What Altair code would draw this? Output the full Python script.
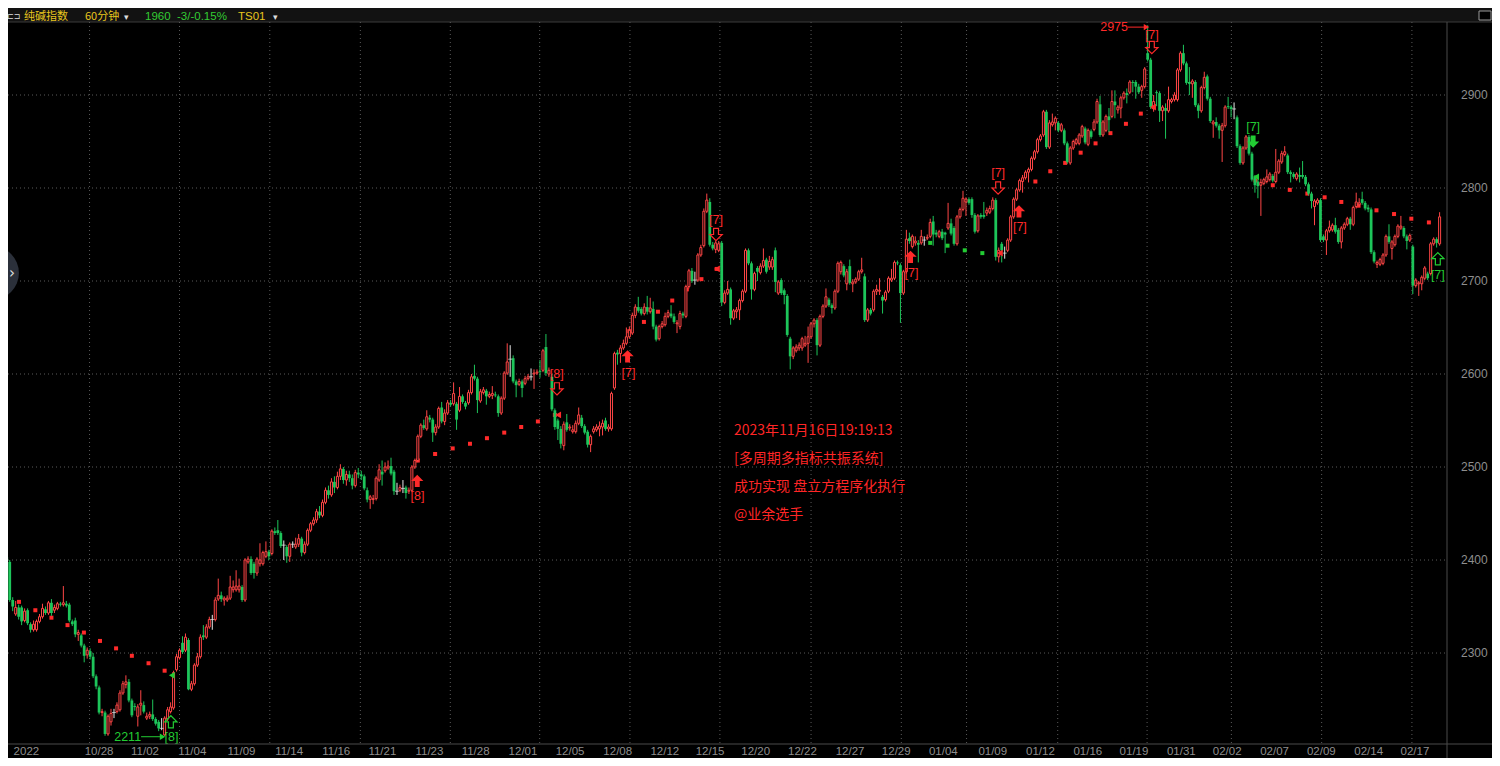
import altair as alt
import pandas as pd

# ---------------- data (60-min candles, bar index = time order) ----------------
opens = [
2403,2398,2357,2342,2349,2349,2335,2346,2331,2325,
2325,2334,2339,2347,2343,2354,2346,2348,2353,2352,
2353,2352,2334,2335,2320,2319,2308,2298,2302,2296,
2275,2263,2236,2236,2213,2226,2236,2237,2239,2257,
2266,2269,2249,2243,2232,2244,2244,2230,2232,2234,
2229,2226,2219,2212,2229,2237,2241,2282,2295,2311,
2303,2314,2261,2267,2287,2296,2319,2317,2328,2336,
2336,2358,2362,2357,2357,2359,2368,2368,2368,2371,
2357,2398,2401,2396,2386,2396,2396,2404,2409,2407,
2431,2432,2429,2416,2414,2404,2417,2414,2417,2423,
2408,2417,2432,2439,2443,2452,2448,2462,2475,2470,
2484,2478,2490,2498,2486,2492,2488,2480,2494,2492,
2490,2475,2465,2465,2466,2486,2495,2496,2499,2501,
2495,2474,2475,2477,2478,2474,2475,2500,2507,2533,
2545,2541,2553,2551,2537,2543,2564,2549,2558,2569,
2568,2568,2561,2576,2569,2569,2580,2598,2595,2571,
2580,2582,2576,2577,2578,2576,2558,2574,2601,2616,
2617,2592,2589,2592,2590,2595,2597,2600,2601,2603,
2604,2629,2600,2597,2561,2550,2541,2523,2548,2542,
2538,2538,2547,2553,2544,2538,2524,2538,2540,2541,
2543,2550,2541,2541,2585,2623,2622,2628,2633,2640,
2644,2663,2672,2670,2665,2672,2667,2670,2651,2638,
2651,2653,2662,2665,2662,2654,2651,2665,2662,2694,
2711,2701,2701,2728,2738,2775,2785,2739,2734,2733,
2741,2677,2687,2691,2660,2667,2669,2679,2689,2733,
2719,2691,2714,2709,2716,2723,2715,2715,2733,2687,
2701,2690,2684,2638,2619,2625,2628,2628,2631,2633,
2640,2654,2658,2631,2662,2673,2680,2674,2671,2689,
2710,2716,2697,2716,2697,2699,2702,2710,2705,2658,
2669,2669,2689,2689,2683,2680,2689,2701,2703,2720,
2717,2687,2710,2746,2737,2741,2741,2741,2744,2746,
2748,2764,2752,2748,2753,2752,2757,2762,2757,2740,
2769,2777,2785,2788,2788,2771,2754,2771,2771,2773,
2774,2778,2787,2726,2740,2730,2733,2744,2769,2788,
2798,2807,2811,2817,2820,2832,2839,2852,2857,2882,
2844,2868,2870,2870,2862,2862,2848,2827,2843,2848,
2848,2856,2864,2847,2861,2863,2871,2890,2857,2862,
2877,2877,2893,2884,2886,2897,2902,2903,2914,2914,
2909,2905,2909,2945,2938,2887,2903,2902,2883,2886,
2883,2893,2895,2895,2927,2945,2934,2914,2912,2914,
2889,2883,2908,2920,2896,2869,2871,2867,2862,2867,
2888,2887,2885,2876,2845,2827,2843,2855,2837,2812,
2807,2803,2805,2807,2809,2813,2807,2817,2828,2836,
2835,2817,2815,2810,2814,2814,2812,2804,2794,2780,
2784,2787,2748,2744,2754,2755,2760,2755,2742,2757,
2761,2767,2761,2780,2782,2788,2784,2779,2777,2731,
2718,2718,2719,2728,2748,2735,2739,2748,2757,2757,
2748,2744,2737,2695,2697,2697,2703,2708,2708,2740,
2745,2740]

highs = [
2415,2400,2360,2356,2352,2351,2348,2348,2333,2335,
2336,2342,2353,2350,2356,2358,2352,2355,2355,2372,
2356,2354,2336,2338,2325,2321,2310,2306,2305,2300,
2277,2265,2240,2238,2234,2240,2240,2247,2260,2270,
2276,2272,2251,2246,2245,2260,2248,2236,2237,2250,
2231,2228,2230,2232,2242,2247,2281,2299,2305,2318,
2321,2316,2270,2289,2300,2320,2330,2331,2339,2341,
2360,2380,2366,2361,2362,2383,2378,2389,2380,2373,
2402,2404,2404,2398,2403,2418,2410,2420,2411,2433,
2435,2443,2431,2421,2416,2419,2420,2424,2428,2425,
2420,2434,2441,2446,2455,2458,2465,2478,2480,2488,
2490,2495,2503,2500,2496,2496,2492,2497,2499,2496,
2492,2478,2470,2470,2490,2503,2507,2505,2507,2510,
2497,2483,2481,2486,2480,2478,2502,2509,2535,2547,
2551,2561,2556,2553,2546,2565,2570,2562,2572,2572,
2591,2570,2586,2578,2571,2583,2600,2610,2597,2584,
2586,2584,2581,2587,2581,2578,2576,2603,2633,2631,
2620,2594,2595,2594,2598,2600,2606,2605,2605,2615,
2627,2643,2607,2600,2563,2552,2544,2549,2557,2546,
2545,2550,2564,2556,2546,2540,2535,2544,2546,2549,
2551,2553,2546,2581,2624,2626,2631,2637,2650,2651,
2666,2675,2683,2672,2676,2684,2682,2678,2653,2653,
2657,2666,2669,2674,2665,2658,2668,2667,2696,2713,
2714,2710,2730,2739,2778,2794,2789,2742,2743,2743,
2743,2690,2700,2693,2670,2672,2681,2691,2735,2735,
2721,2710,2716,2719,2735,2725,2727,2726,2736,2701,
2703,2692,2686,2640,2630,2632,2634,2640,2641,2651,
2656,2660,2660,2664,2675,2692,2682,2676,2691,2721,
2722,2718,2713,2723,2702,2704,2712,2725,2708,2671,
2671,2691,2696,2703,2685,2690,2705,2713,2722,2722,
2719,2712,2755,2752,2750,2748,2744,2755,2748,2750,
2767,2770,2755,2755,2756,2753,2784,2767,2759,2771,
2779,2797,2790,2790,2790,2773,2772,2773,2785,2779,
2781,2790,2789,2736,2742,2737,2746,2771,2790,2800,
2810,2814,2819,2822,2834,2841,2854,2858,2884,2884,
2873,2880,2877,2872,2870,2864,2850,2845,2852,2854,
2859,2868,2866,2864,2863,2874,2896,2899,2873,2879,
2886,2905,2905,2889,2899,2904,2907,2916,2916,2916,
2912,2911,2930,2975,2940,2900,2905,2904,2889,2891,
2909,2897,2903,2929,2947,2954,2936,2930,2917,2916,
2891,2910,2925,2922,2898,2873,2876,2869,2870,2889,
2898,2889,2892,2878,2847,2845,2857,2857,2839,2814,
2809,2810,2811,2820,2817,2815,2842,2831,2840,2845,
2837,2819,2817,2817,2822,2829,2814,2806,2796,2788,
2789,2789,2750,2756,2765,2762,2768,2757,2759,2763,
2769,2769,2781,2795,2789,2796,2786,2782,2779,2733,
2722,2725,2730,2750,2761,2744,2750,2761,2770,2759,
2750,2751,2739,2703,2700,2706,2716,2710,2742,2747,
2747,2774]

lows = [
2397,2355,2345,2340,2336,2330,2333,2330,2322,2323,
2323,2332,2337,2341,2341,2340,2343,2346,2350,2350,
2349,2333,2329,2317,2313,2306,2290,2294,2293,2273,
2261,2234,2232,2211,2211,2222,2230,2235,2237,2255,
2262,2247,2231,2238,2221,2233,2235,2228,2229,2227,
2222,2216,2217,2211,2227,2235,2239,2280,2293,2299,
2301,2260,2259,2265,2285,2294,2314,2315,2326,2325,
2334,2356,2355,2351,2355,2357,2365,2366,2365,2355,
2355,2396,2384,2380,2383,2393,2394,2402,2400,2405,
2427,2427,2413,2400,2397,2398,2413,2412,2414,2404,
2406,2415,2430,2437,2440,2445,2446,2460,2466,2468,
2472,2476,2486,2482,2480,2484,2476,2478,2488,2486,
2475,2462,2455,2460,2464,2484,2480,2494,2497,2491,
2470,2470,2473,2472,2466,2471,2473,2498,2505,2531,
2540,2539,2548,2527,2534,2541,2547,2545,2556,2565,
2566,2540,2559,2568,2562,2567,2578,2593,2558,2569,
2578,2567,2574,2573,2575,2554,2556,2572,2599,2597,
2590,2575,2587,2575,2588,2593,2593,2584,2599,2596,
2602,2598,2597,2560,2540,2529,2520,2518,2538,2539,
2536,2536,2545,2542,2535,2521,2516,2536,2538,2533,
2534,2539,2538,2539,2583,2610,2612,2626,2631,2638,
2642,2660,2666,2663,2663,2664,2665,2648,2635,2636,
2649,2651,2660,2660,2654,2644,2648,2660,2660,2692,
2698,2696,2699,2726,2736,2773,2737,2733,2730,2731,
2673,2675,2685,2653,2658,2660,2658,2677,2687,2717,
2680,2689,2700,2707,2714,2708,2712,2712,2688,2685,
2685,2675,2640,2605,2616,2623,2625,2625,2629,2612,
2638,2650,2620,2629,2660,2671,2672,2665,2669,2687,
2707,2704,2690,2696,2688,2697,2700,2708,2656,2656,
2663,2667,2685,2685,2665,2678,2687,2699,2701,2717,
2655,2685,2708,2740,2735,2738,2720,2739,2738,2744,
2746,2738,2747,2746,2744,2730,2755,2749,2738,2738,
2767,2775,2770,2782,2768,2751,2752,2767,2767,2770,
2772,2776,2722,2720,2720,2724,2731,2742,2767,2786,
2796,2795,2809,2806,2818,2830,2837,2850,2855,2842,
2842,2866,2862,2860,2860,2846,2826,2825,2841,2846,
2846,2854,2847,2845,2853,2861,2869,2855,2855,2860,
2860,2875,2875,2880,2875,2895,2891,2901,2903,2896,
2901,2897,2907,2936,2885,2882,2888,2871,2872,2853,
2881,2891,2893,2893,2925,2932,2911,2900,2897,2887,
2875,2881,2906,2894,2870,2854,2865,2853,2828,2865,
2885,2876,2874,2843,2825,2825,2841,2835,2807,2795,
2789,2770,2803,2805,2807,2806,2805,2815,2826,2834,
2815,2806,2810,2808,2806,2810,2802,2792,2778,2760,
2782,2742,2742,2728,2752,2753,2751,2740,2735,2755,
2759,2755,2759,2778,2780,2782,2776,2774,2729,2719,
2714,2716,2717,2726,2740,2723,2737,2746,2755,2746,
2734,2742,2686,2693,2684,2690,2701,2701,2706,2738,
2736,2738]

closes = [
2399,2357,2350,2349,2339,2334,2345,2332,2325,2331,
2334,2339,2348,2343,2354,2343,2349,2353,2352,2354,
2351,2335,2331,2320,2322,2308,2297,2303,2296,2275,
2264,2236,2237,2213,2232,2235,2236,2244,2257,2267,
2269,2249,2233,2242,2242,2246,2237,2232,2234,2229,
2224,2219,2219,2230,2239,2242,2279,2296,2303,2301,
2317,2261,2267,2287,2296,2317,2317,2328,2336,2336,
2357,2362,2358,2359,2359,2371,2371,2372,2372,2357,
2400,2401,2386,2386,2401,2400,2408,2409,2404,2431,
2429,2429,2415,2416,2404,2417,2417,2417,2423,2408,
2417,2432,2439,2443,2452,2448,2462,2475,2470,2484,
2478,2490,2498,2486,2492,2488,2480,2494,2492,2490,
2477,2465,2468,2466,2488,2497,2492,2500,2501,2493,
2474,2474,2478,2477,2472,2475,2500,2507,2533,2545,
2542,2554,2551,2537,2543,2563,2549,2558,2569,2567,
2579,2551,2576,2570,2565,2580,2597,2595,2572,2581,
2583,2576,2578,2579,2577,2558,2574,2601,2613,2616,
2592,2588,2592,2585,2595,2597,2597,2601,2602,2602,
2625,2601,2604,2562,2543,2541,2525,2546,2540,2543,
2540,2547,2556,2544,2537,2524,2533,2541,2543,2544,
2547,2541,2543,2579,2622,2621,2628,2633,2640,2647,
2663,2672,2668,2665,2672,2667,2671,2651,2637,2651,
2654,2662,2666,2662,2656,2655,2665,2663,2694,2711,
2700,2701,2728,2736,2775,2787,2739,2735,2741,2740,
2677,2687,2691,2660,2668,2669,2679,2689,2733,2719,
2691,2708,2710,2716,2722,2710,2721,2723,2699,2699,
2687,2685,2642,2619,2628,2629,2631,2638,2633,2640,
2654,2658,2631,2662,2673,2683,2674,2671,2689,2719,
2720,2706,2710,2698,2699,2702,2710,2712,2658,2669,
2665,2689,2691,2690,2679,2688,2703,2703,2720,2719,
2687,2710,2745,2743,2748,2743,2739,2748,2744,2747,
2763,2750,2750,2753,2746,2750,2762,2751,2740,2769,
2777,2789,2788,2784,2771,2753,2770,2769,2769,2776,
2778,2787,2726,2733,2733,2730,2744,2769,2788,2798,
2808,2811,2817,2820,2832,2839,2852,2856,2882,2844,
2870,2871,2875,2862,2868,2848,2828,2843,2850,2852,
2857,2866,2849,2862,2855,2871,2893,2857,2871,2877,
2873,2893,2889,2887,2897,2902,2900,2914,2913,2909,
2903,2909,2928,2938,2887,2893,2902,2883,2887,2883,
2895,2895,2900,2927,2945,2934,2913,2912,2915,2889,
2883,2908,2919,2896,2872,2871,2867,2862,2867,2887,
2887,2885,2885,2845,2827,2843,2855,2837,2809,2803,
2802,2806,2809,2812,2815,2808,2817,2829,2837,2839,
2817,2815,2812,2815,2812,2812,2804,2794,2786,2786,
2787,2744,2744,2754,2758,2760,2753,2742,2757,2761,
2767,2761,2779,2785,2784,2784,2778,2777,2731,2721,
2720,2723,2728,2748,2742,2742,2748,2759,2759,2748,
2743,2749,2695,2701,2698,2704,2714,2703,2740,2745,
2741,2769]

price_levels = [2300, 2400, 2500, 2600, 2700, 2800, 2900]
date_labels = ["2022", "10/28", "11/02", "11/04", "11/09", "11/14", "11/16", "11/21",
               "11/23", "11/28", "12/01", "12/05", "12/08", "12/12", "12/15", "12/20",
               "12/22", "12/27", "12/29", "01/04", "01/09", "01/12", "01/16", "01/19",
               "01/31", "02/02", "02/07", "02/09", "02/14", "02/17"]
date_bars = [6.6, 31.0, 46.4, 62.3, 78.8, 94.8, 110.6, 126.1, 141.9, 157.4, 173.3,
             189.1, 205.1, 220.9, 236.1, 251.4, 267.1, 283.1, 298.6, 314.4, 331.0,
             347.0, 362.9, 378.4, 394.3, 409.7, 425.6, 441.3, 457.2, 472.7]
week_bars = [27.8, 58.0, 88.3, 118.7, 148.9, 178.9, 209.2, 239.4, 270.0, 300.3,
             322.2, 352.8, 382.8, 411.1, 441.4, 471.7]

# trailing stop dots
stop_bars = [4.1, 9.6, 15.0, 20.4, 25.9, 31.3, 36.7, 42.0, 47.6, 53.0,
             138.0, 143.8, 149.7, 155.5, 161.2, 167.0, 172.7, 178.3, 184.0,
             209.0, 213.9, 218.6, 223.4, 228.3, 233.2, 238.3,
             303.8, 310.0, 315.8, 321.6, 327.5,
             345.3, 350.3, 355.3, 360.5, 365.5, 370.5, 375.7, 380.7, 385.0,
             419.2, 425.0, 430.7, 436.6, 442.4, 448.0, 453.8, 459.8, 465.7, 471.5, 477.4]
stop_prices = [2355, 2346, 2338, 2330, 2322, 2313, 2305, 2297, 2289, 2281,
               2507, 2514, 2520, 2525, 2531, 2537, 2543, 2549, 2556,
               2646, 2656, 2667, 2679, 2691, 2702, 2713,
               2745, 2741, 2738, 2733, 2730,
               2807, 2818, 2827, 2838, 2848, 2859, 2869, 2880, 2887,
               2808, 2803, 2798, 2794, 2790, 2785, 2781, 2776, 2772, 2767, 2763]
stop_sides = ["r"] * 26 + ["g"] * 5 + ["r"] * 20

# signal arrows
arrow_bars = [55.1, 137.8, 208.4, 303.4, 339.8, 184.7, 238.1, 332.8, 384.4, 418.4, 480.4]
arrow_prices = [2226, 2485, 2619, 2726, 2775, 2584, 2750, 2800, 2951, 2850, 2724]
arrow_dirs = ["up", "up", "up", "up", "up", "down", "down", "down", "down", "down", "up"]
arrow_solid = [False, True, True, True, True, False, False, False, False, True, False]
arrow_sides = ["g", "r", "r", "r", "r", "r", "r", "r", "r", "g", "g"]

tag_bars = [55.3, 137.9, 184.6, 208.7, 238.1, 303.7, 332.8, 340.1, 384.4, 418.4, 480.4]
tag_prices = [2210, 2469, 2600, 2601, 2766, 2709, 2816, 2758, 2965, 2866, 2707]
tag_texts = ["[8]", "[8]", "[8]", "[7]", "[7]", "[7]", "[7]", "[7]", "[7]", "[7]", "[7]"]
tag_sides = ["g", "r", "r", "r", "r", "r", "r", "r", "r", "g", "g"]

flag_bars = [55.4, 185.1, 238.4, 333.4, 384.8, 419.4]
flag_prices = [2276, 2556, 2713, 2730, 2887, 2812]
flag_sides = ["g", "r", "r", "r", "r", "g"]

extreme_texts = ["2975", "2211"]
extreme_bars = [376.4, 45.1]
extreme_prices = [2973, 2210]
extreme_ends = [382.6, 52.3]
extreme_sides = ["r", "g"]

note_lines = ["2023年11月16日19:19:13", "[多周期多指标共振系统]", "成功实现 盘立方程序化执行", "@业余选手"]

# ---------------- style ----------------
RED = "#FF4646"
GREEN = "#1DC55A"
WHITE = "#E8E8E8"
SIG = {"r": "#FF2A2A", "g": "#22CC33"}
GRAY = "#8E8E8E"
YELLOW = "#E8C61E"
HGREEN = "#33CC33"
W, H = 1439, 723
FONT = "Liberation Sans"
CJK = "Noto Sans CJK SC"

xs = alt.Scale(domain=[2.1, 481.8], nice=False, zero=False)
ys = alt.Scale(domain=[2205.4, 2982.8], nice=False, zero=False)


def X(f):
    return alt.X(f, type="quantitative", scale=xs, axis=None)


def Y(f):
    return alt.Y(f, type="quantitative", scale=ys, axis=None)


N = len(closes)
assert len(opens) == N and len(highs) == N and len(lows) == N
kinds = ["up" if c > o else ("down" if c < o else "flat") for o, c in zip(opens, closes)]
kcol = {"up": RED, "down": GREEN, "flat": WHITE}
df = pd.DataFrame({"i": list(range(N)), "o": opens, "h": highs, "l": lows, "c": closes, "k": kinds})
df["col"] = df["k"].map(kcol)

one = pd.DataFrame({"z": [0]})
layers = []

# header band
layers.append(alt.Chart(one).mark_rect(color="#121212").encode(
    x=alt.value(0), x2=alt.value(W + 45), y=alt.value(-10), y2=alt.value(4)))
layers.append(alt.Chart(one).mark_rule(color="#3a3a3a").encode(
    x=alt.value(0), x2=alt.value(W + 45), y=alt.value(4)))

# grids
layers.append(alt.Chart(pd.DataFrame({"p": price_levels})).mark_rule(
    color="#5a5a5a", strokeDash=[1, 3], strokeWidth=1).encode(
    y=Y("p"), x=alt.value(0), x2=alt.value(W)))
layers.append(alt.Chart(pd.DataFrame({"w": week_bars})).mark_rule(
    color="#5a5a5a", strokeDash=[1, 3], strokeWidth=1).encode(
    x=X("w"), y=alt.value(4), y2=alt.value(H + 3)))

# stop dots
sdf = pd.DataFrame({"i": stop_bars, "p": stop_prices, "col": [SIG[s] for s in stop_sides]})
layers.append(alt.Chart(sdf).mark_point(shape="square", filled=True, size=16, opacity=1).encode(
    x=X("i"), y=Y("p"), color=alt.Color("col:N", scale=None)))

# candles
layers.append(alt.Chart(df).mark_rule(strokeWidth=1).encode(
    x=X("i"), y=Y("l"), y2=alt.Y2("h"), color=alt.Color("col:N", scale=None)))
layers.append(alt.Chart(df).transform_filter("datum.k == 'down'").mark_bar(
    size=2.8, color=GREEN).encode(x=X("i"), y=Y("o"), y2=alt.Y2("c")))
layers.append(alt.Chart(df).transform_filter("datum.k == 'up'").mark_bar(
    size=2.0, fill="#000000", stroke=RED, strokeWidth=1).encode(x=X("i"), y=Y("o"), y2=alt.Y2("c")))
layers.append(alt.Chart(df).transform_filter("datum.k == 'flat'").mark_tick(
    orient="horizontal", size=4, thickness=1, color=WHITE).encode(x=X("i"), y=Y("o")))

# signal arrows
UP = "M0,-1L1,0L0.4,0L0.4,1L-0.4,1L-0.4,0L-1,0Z"
DOWN = "M0,1L1,0L0.4,0L0.4,-1L-0.4,-1L-0.4,0L-1,0Z"
adf = pd.DataFrame({"i": arrow_bars, "p": arrow_prices, "d": arrow_dirs, "s": arrow_solid,
                    "col": [SIG[s] for s in arrow_sides]})
for d, path in (("up", UP), ("down", DOWN)):
    for solid in (True, False):
        sub = adf[(adf["d"] == d) & (adf["s"] == solid)]
        if len(sub) == 0:
            continue
        layers.append(alt.Chart(sub).mark_point(
            shape=path, size=150, filled=solid, strokeWidth=1.2, opacity=1).encode(
            x=X("i"), y=Y("p"), color=alt.Color("col:N", scale=None)))

tdf = pd.DataFrame({"i": tag_bars, "p": tag_prices, "t": tag_texts, "col": [SIG[s] for s in tag_sides]})
layers.append(alt.Chart(tdf).mark_text(font=FONT, fontSize=12.5, baseline="middle").encode(
    x=X("i"), y=Y("p"), text="t:N", color=alt.Color("col:N", scale=None)))

fdf = pd.DataFrame({"i": flag_bars, "p": flag_prices, "col": [SIG[s] for s in flag_sides]})
layers.append(alt.Chart(fdf).mark_point(shape="triangle-left", filled=True, size=45, opacity=1).encode(
    x=X("i"), y=Y("p"), color=alt.Color("col:N", scale=None)))

# extreme labels with arrows
edf = pd.DataFrame({"i": extreme_bars, "e": extreme_ends, "p": extreme_prices, "t": extreme_texts,
                    "col": [SIG[s] for s in extreme_sides]})
layers.append(alt.Chart(edf).mark_text(font=FONT, fontSize=12.5, align="right", baseline="middle").encode(
    x=X("i"), y=Y("p"), text="t:N", color=alt.Color("col:N", scale=None)))
layers.append(alt.Chart(edf).mark_rule(strokeWidth=1).encode(
    x=X("i"), x2=alt.X2("e"), y=Y("p"), color=alt.Color("col:N", scale=None)))
layers.append(alt.Chart(edf).mark_point(shape="triangle-right", filled=True, size=40, opacity=1).encode(
    x=X("e"), y=Y("p"), color=alt.Color("col:N", scale=None)))

# text annotation block
for k, line in enumerate(note_lines):
    layers.append(alt.Chart(one).mark_text(
        font=CJK, fontSize=14, align="left", baseline="middle", color="#FF2626").encode(
        x=alt.value(726), y=alt.value(413 + 28 * k), text=alt.value(line)))

# axes frame
layers.append(alt.Chart(one).mark_rule(color="#4a4a4a").encode(
    x=alt.value(W), y=alt.value(4), y2=alt.value(H + 17)))
layers.append(alt.Chart(one).mark_rule(color="#4a4a4a").encode(
    x=alt.value(0), x2=alt.value(W + 45), y=alt.value(H + 3)))

pdf = pd.DataFrame({"p": price_levels, "lab": [str(v) for v in price_levels]})
layers.append(alt.Chart(pdf).mark_text(font=FONT, fontSize=12, align="left", baseline="middle",
                                       color=GRAY).encode(
    x=alt.value(W + 14), y=Y("p"), text="lab:N"))
ddf = pd.DataFrame({"i": date_bars, "lab": date_labels})
layers.append(alt.Chart(ddf).mark_text(font=FONT, fontSize=11.5, align="center", baseline="middle",
                                       color=GRAY).encode(
    x=X("i"), y=alt.value(H + 11), text="lab:N"))

# header texts
header = [("⊏⊐", -1, "#DDDDDD", "DejaVu Sans", 8),
          ("纯碱指数", 16, YELLOW, CJK, 11),
          ("60分钟", 77, YELLOW, CJK, 11),
          ("▾", 116, "#DDDDDD", "DejaVu Sans", 9),
          ("1960", 137, HGREEN, FONT, 11.5),
          ("-3/-0.15%", 169, HGREEN, FONT, 11.5),
          ("TS01", 230, YELLOW, FONT, 11.5),
          ("▾", 265, "#DDDDDD", "DejaVu Sans", 9)]
for txt, hx, col, fnt, fs in header:
    layers.append(alt.Chart(one).mark_text(font=fnt, fontSize=fs, align="left", baseline="middle",
                                           color=col).encode(
        x=alt.value(hx), y=alt.value(-1), text=alt.value(txt)))
layers.append(alt.Chart(one).mark_rect(fill="#000000", stroke="#9a9a9a", strokeWidth=1).encode(
    x=alt.value(W + 32), x2=alt.value(W + 44), y=alt.value(-7), y2=alt.value(2)))

# left side button
layers.append(alt.Chart(one).mark_point(shape="circle", filled=True, size=2900, color="#2b303a",
                                        opacity=1).encode(x=alt.value(-16), y=alt.value(255)))
layers.append(alt.Chart(one).mark_text(font="DejaVu Sans", fontSize=15, align="left",
                                       baseline="middle", color="#E0E0E0").encode(
    x=alt.value(1), y=alt.value(255), text=alt.value("›")))

chart = alt.layer(*layers).properties(
    width=W, height=H,
    autosize=alt.AutoSizeParams(type="none"),
    padding={"left": 0, "top": 10, "right": 45, "bottom": 17},
    background="#000000",
).configure_view(stroke=None)

chart.save("out.html", embed_options={"renderer": "svg", "actions": False})
